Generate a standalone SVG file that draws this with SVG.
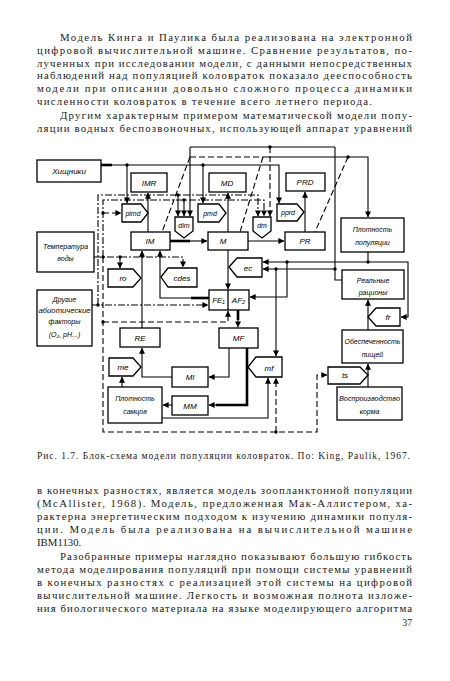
<svg xmlns="http://www.w3.org/2000/svg" width="450" height="681" viewBox="0 0 450 681">
<style>
.pg{font-family:"Liberation Serif",serif;font-size:10.8px;fill:#1a1a1a}
.cap{font-family:"Liberation Serif",serif;font-size:9.5px;fill:#1a1a1a}
.bx{fill:#fff;stroke:#000;stroke-width:1.3}
.lab{font-family:"Liberation Sans",sans-serif;font-style:italic;font-size:8px;text-anchor:middle;fill:#000}
.sm{font-size:7px}
.c{fill:none;stroke:#000;stroke-width:1.1}
.th{fill:none;stroke:#000;stroke-width:2.6}
.dd{stroke-dasharray:7,2,2,2}
.ds{stroke-dasharray:6,3}
.dot{fill:#000}
</style>
<defs>
<marker id="a" viewBox="0 0 8 8" refX="7.5" refY="4" markerWidth="6" markerHeight="6" markerUnits="userSpaceOnUse" orient="auto">
<path d="M0,0 L8,4 L0,8 z" fill="#000"/>
</marker>
</defs>
<rect width="450" height="681" fill="#fff"/>
<g id="text-top">
<text class="pg" x="60" y="41" textLength="352" lengthAdjust="spacing">Модель Кинга и Паулика была реализована на электронной</text>
<text class="pg" x="37" y="53.8" textLength="375" lengthAdjust="spacing">цифровой вычислительной машине. Сравнение результатов, по-</text>
<text class="pg" x="37" y="66.6" textLength="375" lengthAdjust="spacing">лученных при исследовании модели, с данными непосредственных</text>
<text class="pg" x="37" y="79.4" textLength="375" lengthAdjust="spacing">наблюдений над популяцией коловраток показало дееспособность</text>
<text class="pg" x="37" y="92.2" textLength="375" lengthAdjust="spacing">модели при описании довольно сложного процесса динамики</text>
<text class="pg" x="37" y="105" textLength="335" lengthAdjust="spacing">численности коловраток в течение всего летнего периода.</text>
<text class="pg" x="60" y="118.8" textLength="352" lengthAdjust="spacing">Другим характерным примером математической модели попу-</text>
<text class="pg" x="37" y="131.6" textLength="375" lengthAdjust="spacing">ляции водных беспозвоночных, использующей аппарат уравнений</text>
</g>
<g id="connectors">
<path class="c" d="M190,147 H335"/>
<path class="c" d="M190,147 V216" marker-end="url(#a)"/>
<path class="c ds" d="M270,147 V216" marker-end="url(#a)"/>
<path class="c" d="M335,147 V269"/>
<path class="c ds" d="M190,157 H263"/>
<path class="c" d="M263,157 H368 V217" marker-end="url(#a)"/>
<path class="c ds" d="M190,157 L162,232"/>
<path class="c ds" d="M263,157 L240,232"/>
<path class="c ds" d="M348,157 L315,232"/>
<path class="th" d="M101,165 H112"/>
<path class="c" d="M101,165 H279 V203" marker-end="url(#a)"/>
<path class="c" d="M127,165 V203" marker-end="url(#a)"/>
<path class="c" d="M203,165 V203" marker-end="url(#a)"/>
<path class="c" d="M148,232 V193" marker-end="url(#a)"/>
<path class="c" d="M228,232 V193" marker-end="url(#a)"/>
<path class="c" d="M305,232 V192" marker-end="url(#a)"/>
<path class="th" d="M170,241 H190"/>
<path class="c" d="M190,241 H207" marker-end="url(#a)"/>
<path class="c" d="M248,241 H284" marker-end="url(#a)"/>
<path class="c dd" d="M92,305 H208" marker-end="url(#a)"/>
<path class="c dd" d="M98,305 V195 H258 V216" marker-end="url(#a)"/>
<path class="c" d="M178,195 V216" marker-end="url(#a)"/>
<path class="c dd" d="M94,257 H183 V267" marker-end="url(#a)"/>
<path class="c dd" d="M103,257 V200 H264 V216" marker-end="url(#a)"/>
<path class="c" d="M184,200 V216" marker-end="url(#a)"/>
<path class="c ds" d="M103,213 H121" marker-end="url(#a)"/>
<path class="c" d="M120,257 V268" marker-end="url(#a)"/>
<path class="c ds" d="M103,257 V432 H317 V375 H327" marker-end="url(#a)"/>
<path class="c ds" d="M103,322 H228 V311" marker-end="url(#a)"/>
<path class="c ds" d="M276,432 V378" marker-end="url(#a)"/>
<path class="th" d="M209,298 H191"/>
<path class="c" d="M209,298 H160 V251" marker-end="url(#a)"/>
<path class="c" d="M142,328 V251" marker-end="url(#a)"/>
<path class="c" d="M228,250 V289" marker-end="url(#a)"/>
<path class="c" d="M368,252 V262 H408 V317 H401" marker-end="url(#a)"/>
<path class="c" d="M368,262 H263" marker-end="url(#a)"/>
<path class="c" d="M287,262 V297 H250" marker-end="url(#a)"/>
<path class="c" d="M342,280 H335 V269 H263" marker-end="url(#a)"/>
<path class="c" d="M276,269 V356" marker-end="url(#a)"/>
<path class="c" d="M368,330 V300" marker-end="url(#a)"/>
<path class="c" d="M368,387 V364" marker-end="url(#a)"/>
<path class="th" d="M238,310 V320"/>
<path class="c" d="M238,318 V327" marker-end="url(#a)"/>
<path class="c" d="M229,348 V377 H209" marker-end="url(#a)"/>
<path class="th" d="M247,348 V405 H216"/>
<path class="c" d="M218,405 H209" marker-end="url(#a)"/>
<path class="c" d="M172,377 H142 V348" marker-end="url(#a)"/>
<path class="c" d="M172,405 H163" marker-end="url(#a)"/>
<path class="c" d="M122,387 V377" marker-end="url(#a)"/>
<path class="c" d="M162,418 H268 V378" marker-end="url(#a)"/>
<circle class="dot" cx="270" cy="147" r="1.7"/>
<circle class="dot" cx="348" cy="157" r="1.7"/>
<circle class="dot" cx="127" cy="165" r="1.7"/>
<circle class="dot" cx="203" cy="165" r="1.7"/>
<circle class="dot" cx="98" cy="305" r="1.7"/>
<circle class="dot" cx="178" cy="195" r="1.7"/>
<circle class="dot" cx="184" cy="200" r="1.7"/>
<circle class="dot" cx="103" cy="213" r="1.7"/>
<circle class="dot" cx="103" cy="257" r="1.7"/>
<circle class="dot" cx="120" cy="257" r="1.7"/>
<circle class="dot" cx="103" cy="322" r="1.7"/>
<circle class="dot" cx="276" cy="432" r="1.7"/>
<circle class="dot" cx="368" cy="262" r="1.7"/>
<circle class="dot" cx="287" cy="262" r="1.7"/>
<circle class="dot" cx="335" cy="269" r="1.7"/>
<circle class="dot" cx="276" cy="269" r="1.7"/>
<circle class="dot" cx="142" cy="256" r="1.7"/>
</g>
<g id="n-hishniki"><rect class="bx" x="37" y="160" width="64" height="22"/><text class="lab" x="69" y="174">Хищники</text></g>
<g id="n-temp"><rect class="bx" x="37" y="232" width="57" height="40"/><text class="lab sm" x="65.5" y="249">Температура</text><text class="lab sm" x="65.5" y="261">воды</text></g>
<g id="n-drugie"><rect class="bx" x="37" y="290" width="55" height="56"/><text class="lab sm" x="64.5" y="302">Другие</text><text class="lab sm" x="64.5" y="313" textLength="52" lengthAdjust="spacingAndGlyphs">абиотические</text><text class="lab sm" x="64.5" y="324">факторы</text><text class="lab sm" x="64.5" y="337">(O₂, pH...)</text></g>
<g id="n-imr"><rect class="bx" x="131" y="173" width="36" height="19"/><text class="lab" x="149" y="186">IMR</text></g>
<g id="n-md"><rect class="bx" x="209" y="173" width="37" height="19"/><text class="lab" x="227" y="186">MD</text></g>
<g id="n-prd"><rect class="bx" x="286" y="173" width="39" height="18"/><text class="lab" x="305" y="185">PRD</text></g>
<g id="n-pimd"><path class="bx" d="M122,204 H141 L148,213 L141,222 H122 Z"/><text class="lab sm" x="133" y="216">pimd</text></g>
<g id="n-pmd"><path class="bx" d="M198,204 H219 L226,213 L219,222 H198 Z"/><text class="lab sm" x="210" y="216">pmd</text></g>
<g id="n-pprd"><path class="bx" d="M277,204 H297 L304,212 L297,221 H277 Z"/><text class="lab sm" x="288" y="215">pprd</text></g>
<g id="n-dim"><path class="bx" d="M175,217 H193 V231 L184,238 L175,231 Z"/><text class="lab sm" x="184" y="228">dim</text></g>
<g id="n-dm"><path class="bx" d="M253,217 H271 V231 L262,238 L253,231 Z"/><text class="lab sm" x="262" y="228">dm</text></g>
<g id="n-im"><rect class="bx" x="131" y="232" width="39" height="18"/><text class="lab" x="150" y="244">IM</text></g>
<g id="n-m"><rect class="bx" x="208" y="232" width="40" height="18"/><text class="lab" x="223" y="244">M</text></g>
<g id="n-pr"><rect class="bx" x="285" y="232" width="40" height="18"/><text class="lab" x="305" y="244">PR</text></g>
<g id="n-plotpop"><rect class="bx" x="341" y="218" width="63" height="34"/><text class="lab sm" x="372.5" y="232">Плотность</text><text class="lab sm" x="372.5" y="245">популяции</text></g>
<g id="n-real"><rect class="bx" x="342" y="270" width="62" height="29"/><text class="lab sm" x="373" y="283">Реальные</text><text class="lab sm" x="373" y="295">рационы</text></g>
<g id="n-obesp"><rect class="bx" x="342" y="330" width="61" height="33"/><text class="lab sm" x="372.5" y="344" textLength="56" lengthAdjust="spacingAndGlyphs">Обеспеченность</text><text class="lab sm" x="372.5" y="357">пищей</text></g>
<g id="n-vospr"><rect class="bx" x="337" y="387" width="65" height="33"/><text class="lab sm" x="369.5" y="401" textLength="61" lengthAdjust="spacingAndGlyphs">Воспроизводство</text><text class="lab sm" x="369.5" y="414">корма</text></g>
<g id="n-ro"><path class="bx" d="M108,269 H133 L141,278 L133,287 H108 Z"/><text class="lab" x="123" y="281">ro</text></g>
<g id="n-cdes"><path class="bx" d="M161,277 L168,268 H197 V287 H168 Z"/><text class="lab" x="182" y="281">cdes</text></g>
<g id="n-ec"><path class="bx" d="M229,267 L237,258 H262 V277 H237 Z"/><text class="lab" x="248" y="271">ec</text></g>
<g id="n-fe"><rect class="bx" x="209" y="290" width="40" height="20"/><line x1="228" y1="290" x2="228" y2="310" stroke="#000" stroke-width="1.3"/><text class="lab" x="218.5" y="303">FE₁</text><text class="lab" x="238.5" y="303">AF₂</text></g>
<g id="n-re"><rect class="bx" x="120" y="328" width="40" height="19"/><text class="lab" x="140" y="341">RE</text></g>
<g id="n-mf"><rect class="bx" x="219" y="328" width="39" height="20"/><text class="lab" x="238.5" y="341">MF</text></g>
<g id="n-fr"><path class="bx" d="M368,317 L376,308 H400 V326 H376 Z"/><text class="lab" x="388" y="320">fr</text></g>
<g id="n-mfp"><path class="bx" d="M248,367 L256,357 H282 V377 H256 Z"/><text class="lab" x="269" y="371">mf</text></g>
<g id="n-me"><path class="bx" d="M109,358 H133 L141,367 L133,376 H109 Z"/><text class="lab" x="123" y="370">me</text></g>
<g id="n-ml"><rect class="bx" x="172" y="367" width="36" height="20"/><text class="lab" x="190" y="380">Ml</text></g>
<g id="n-ts"><path class="bx" d="M328,367 H360 L368,375 L360,384 H328 Z"/><text class="lab" x="345" y="378">ts</text></g>
<g id="n-mm"><rect class="bx" x="172" y="396" width="36" height="19"/><text class="lab" x="190" y="409">MM</text></g>
<g id="n-plotsam"><rect class="bx" x="108" y="387" width="54" height="36"/><text class="lab sm" x="135" y="401">Плотность</text><text class="lab sm" x="135" y="414">самцов</text></g>
<g id="caption"><text class="cap" x="37" y="459" textLength="373" lengthAdjust="spacing">Рис. 1.7. Блок-схема модели популяции коловраток. По: King, Paulik, 1967.</text></g>
<g id="text-bottom">
<text class="pg" x="37" y="494" textLength="375" lengthAdjust="spacing">в конечных разностях, является модель зоопланктонной популяции</text>
<text class="pg" x="37" y="507" textLength="375" lengthAdjust="spacing">(McAllister, 1968). Модель, предложенная Мак-Аллистером, ха-</text>
<text class="pg" x="37" y="520" textLength="375" lengthAdjust="spacing">рактерна энергетическим подходом к изучению динамики популя-</text>
<text class="pg" x="37" y="533" textLength="375" lengthAdjust="spacing">ции. Модель была реализована на вычислительной машине</text>
<text class="pg" x="37" y="546">IBM1130.</text>
<text class="pg" x="60" y="560" textLength="352" lengthAdjust="spacing">Разобранные примеры наглядно показывают большую гибкость</text>
<text class="pg" x="37" y="573" textLength="375" lengthAdjust="spacing">метода моделирования популяций при помощи системы уравнений</text>
<text class="pg" x="37" y="586" textLength="375" lengthAdjust="spacing">в конечных разностях с реализацией этой системы на цифровой</text>
<text class="pg" x="37" y="599" textLength="375" lengthAdjust="spacing">вычислительной машине. Легкость и возможная полнота изложе-</text>
<text class="pg" x="37" y="612" textLength="375" lengthAdjust="spacing">ния биологического материала на языке моделирующего алгоритма</text>
<text class="cap" x="412" y="626" text-anchor="end">37</text>
</g>
</svg>
